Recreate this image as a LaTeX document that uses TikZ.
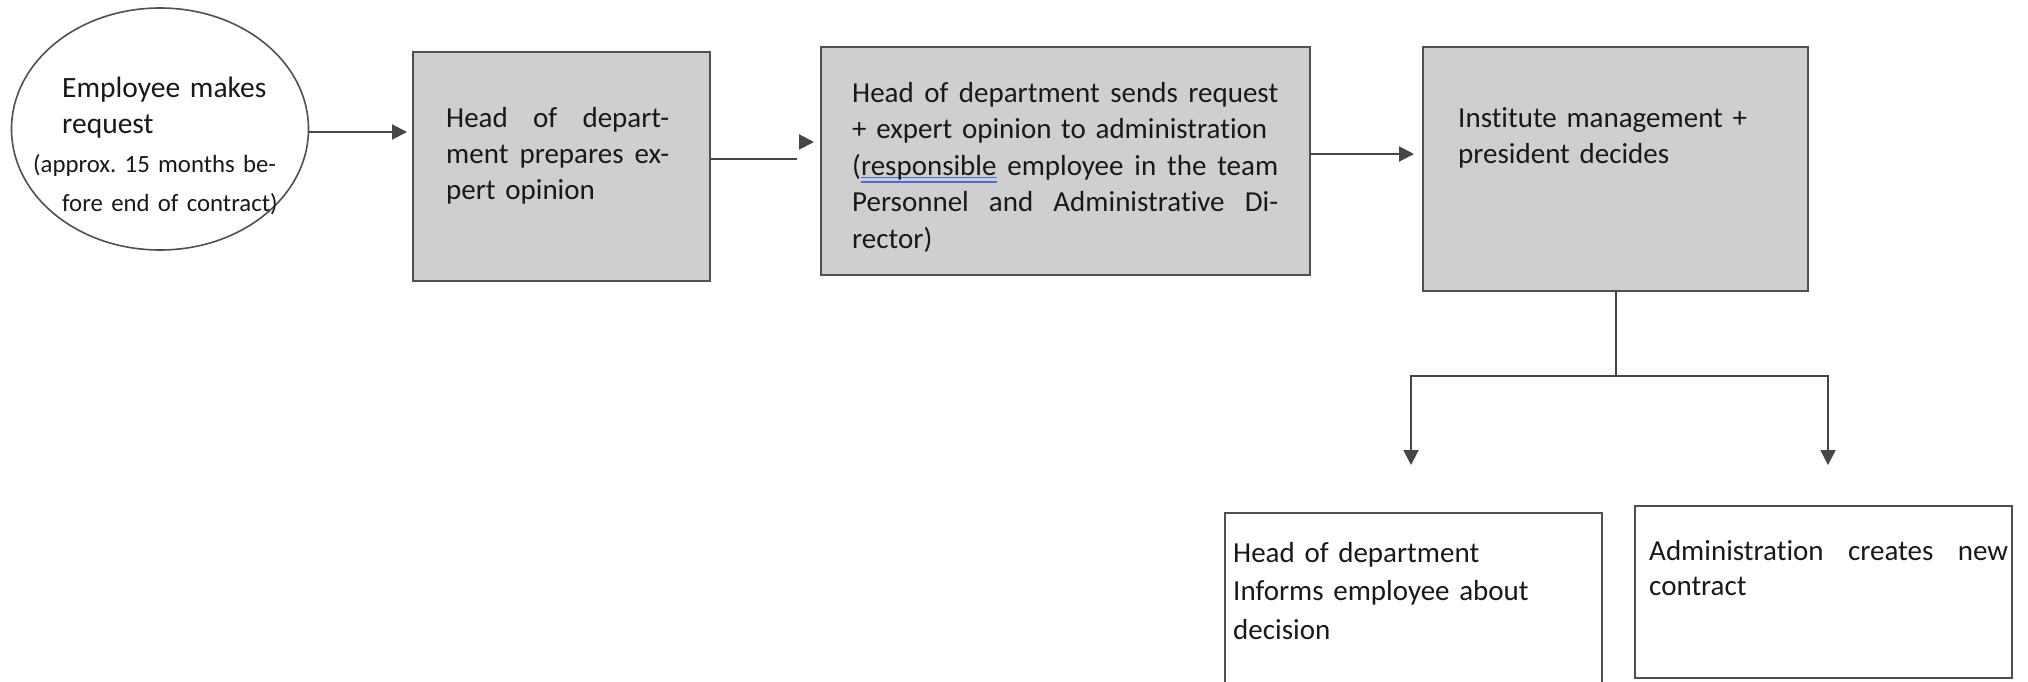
\documentclass[tikz,border=0pt]{standalone}
\usepackage{fontspec}
\setmainfont{Carlito}[Ligatures=NoCommon]
\usetikzlibrary{arrows.meta,shapes.geometric,calc}
\frenchspacing
\definecolor{boxgray}{RGB}{207,207,207}
\definecolor{edgegray}{RGB}{80,80,80}
\definecolor{linegray}{RGB}{70,70,70}
\definecolor{spellblue}{RGB}{70,110,220}
\definecolor{txtc}{RGB}{25,25,25}
\newlength\spellw
\newcommand\spellmark[1]{\settowidth\spellw{#1}\rlap{\color{spellblue}\rule[-3pt]{\spellw}{1.3pt}}\rlap{\color{spellblue}\rule[-7.5pt]{\spellw}{1.3pt}}#1}
\newcommand\jl[2]{\leavevmode\hbox to #1{#2}}
\tikzset{
  graybox/.style={draw=edgegray, line width=2pt, fill=boxgray, rectangle, inner sep=0pt},
  whitebox/.style={draw=edgegray, line width=2pt, fill=white, rectangle, inner sep=0pt},
  txt/.style={inner sep=0pt, anchor=base west, text=txtc, align=left},
  arr/.style={draw=linegray, line width=2pt, -{Triangle[length=15pt,width=15pt]}},
  plain/.style={draw=linegray, line width=2pt}
}
\begin{document}
\begin{tikzpicture}[x=1pt,y=-1pt]
\useasboundingbox (0,0) rectangle (2028,681);
\clip (0,0) rectangle (2028,681);
% shapes
\node[ellipse, draw=edgegray, line width=1.6pt, fill=white, minimum width=297pt, minimum height=242pt, inner sep=0pt] (ell) at (160,129) {};
\node[graybox, minimum width=297pt, minimum height=229pt] (box2) at (561.5,166.5) {};
\node[graybox, minimum width=489pt, minimum height=228pt] (box3) at (1065.5,161) {};
\node[graybox, minimum width=385pt, minimum height=244pt] (box4) at (1615.5,169) {};
\node[whitebox, minimum width=377pt, minimum height=250pt] (box5) at (1413.5,638) {};
\node[whitebox, minimum width=377pt, minimum height=172pt] (box6) at (1823.5,592) {};
% texts
\node[txt, text width=260pt, font=\fontsize{29.5}{36}\selectfont] (t1a) at (62,97) {\mbox{Employee makes}\\\mbox{request}};
\node[txt, text width=260pt, font=\fontsize{24.8}{39}\selectfont] (t1b) at (33,172) {\mbox{(approx. 15 months be-}\\\mbox{\hspace*{29pt}fore end of contract)}};
\node[txt, text width=223pt, font=\fontsize{29}{36}\selectfont] (t2) at (446,127) {\jl{223pt}{Head\hfill of\hfill depart-}\\\jl{223pt}{ment\hfill prepares\hfill ex-}\\\mbox{pert opinion}};
\node[txt, text width=426pt, font=\fontsize{29}{36.5}\selectfont] (t3) at (852,102) {\jl{426pt}{Head\hfill of\hfill department\hfill sends\hfill request}\\\mbox{+ expert opinion to administration}\\\jl{426pt}{(\spellmark{responsible}\hfill employee\hfill in\hfill the\hfill team}\\\jl{426pt}{Personnel\hfill and\hfill Administrative\hfill Di-}\\\mbox{rector)}};
\node[txt, text width=340pt, font=\fontsize{29}{36}\selectfont] (t4) at (1458,127) {\mbox{Institute management +}\\\mbox{president decides}};
\node[txt, text width=360pt, font=\fontsize{29}{38.5}\selectfont] (t5) at (1233,562) {\mbox{Head of department}\\\mbox{Informs employee about}\\\mbox{decision}};
\node[txt, text width=359pt, font=\fontsize{29}{35}\selectfont] (t6) at (1649,560) {\jl{359pt}{Administration\hfill creates\hfill new}\\\mbox{contract}};
% connectors
\draw[arr, shorten >=5pt] ([yshift=-3pt]ell.east) -- ([yshift=-3pt]ell.east -| box2.west);
\coordinate (a2end) at ([xshift=-23pt,yshift=7.5pt]box2.east -| box3.west);
\draw[plain] ([yshift=7.5pt]box2.east) -- (a2end);
\coordinate (a2tip) at ([xshift=-6pt,yshift=19pt]box3.west);
\draw[arr] ([xshift=-20pt,yshift=19pt]box3.west) -- (a2tip);
\draw[arr, shorten >=8pt] ([yshift=7pt]box3.east) -- ([yshift=7pt]box3.east -| box4.west);
\coordinate (split) at (1615.5,376);
\coordinate (e5) at (1411,465);
\coordinate (e6) at (1828,465);
\draw[plain] (box4.south) -- (split);
\draw[arr] (split) -| (e5);
\draw[arr] (split) -| (e6);
\end{tikzpicture}
\end{document}
